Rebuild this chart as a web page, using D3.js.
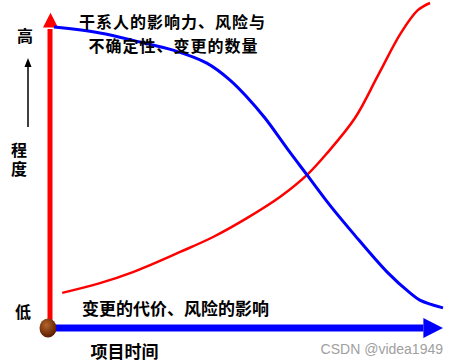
<!DOCTYPE html>
<html><head><meta charset="utf-8">
<script src="https://cdn.jsdelivr.net/npm/d3@7"></script>
<style>body{margin:0;background:#fff}svg{display:block}</style>
</head><body>
<script>
// Data (time 0-100, level 0-100)
const blueTime  = [1.0, 12.7, 22.9, 31.3, 39.9, 45.8, 50.1, 54.7, 60.6, 65.4, 71.2, 77.1, 85.8, 91.6, 94.1, 100];
const blueLevel = [92.6, 90.8, 88.0, 85.5, 81.5, 76.3, 71.1, 64.6, 54.8, 47.1, 37.8, 29.2, 17.2, 10.8, 8.6, 6.2];
const redTime   = [3.1, 12.7, 21.1, 33.1, 41.5, 50.1, 58.5, 65.4, 70.5, 77.6, 83.5, 89.3, 93.6, 96.7];
const redLevel  = [10.8, 13.8, 17.2, 23.4, 28.0, 33.8, 40.3, 47.1, 53.8, 64.6, 77.8, 90.8, 97.8, 100];
const blueLabel = ["干系人的影响力、风险与", "不确定性、变更的数量"];
const redLabel  = "变更的代价、风险的影响";
const xLabel    = "项目时间";
const yHigh     = "高";
const yLow      = "低";
const yLabel    = "程度";
const watermark = "CSDN @videa1949";

const W = 458, H = 364;
const svg = d3.select("body").append("svg").attr("width", W).attr("height", H);
const x = d3.scaleLinear().domain([0, 100]).range([50, 443]);
const y = d3.scaleLinear().domain([0, 100]).range([328, 3]);
const font = "'Noto Sans CJK SC', 'Noto Sans', sans-serif";

const line = d3.line().x(d => x(d[0])).y(d => y(d[1])).curve(d3.curveCatmullRom.alpha(0.5));

// Red vertical axis
svg.append("line").attr("x1", x(0)).attr("x2", x(0)).attr("y1", y(0)).attr("y2", y(92))
  .attr("stroke", "#ff0000").attr("stroke-width", 5);
svg.append("path").attr("fill", "#ff0000")
  .attr("d", `M${x(0)+0.5},${y(97)} L${x(0)-7},${y(92.5)} L${x(0)+8},${y(92.5)} Z`);

// Blue horizontal axis
svg.append("line").attr("x1", x(0)).attr("x2", x(95)).attr("y1", y(0)).attr("y2", y(0))
  .attr("stroke", "#0000ff").attr("stroke-width", 7);
svg.append("path").attr("fill", "#0000ff")
  .attr("d", `M${x(100)},${y(0)} L${x(95)},${y(0)-10} L${x(95)},${y(0)+10} Z`);

// Origin ball
const defs = svg.append("defs");
const g = defs.append("radialGradient").attr("id", "ball").attr("cx", "40%").attr("cy", "35%").attr("r", "65%");
g.append("stop").attr("offset", "0%").attr("stop-color", "#b5652a");
g.append("stop").attr("offset", "100%").attr("stop-color", "#5a1c00");
svg.append("ellipse").attr("cx", x(0) - 2).attr("cy", y(0)).attr("rx", 8.5).attr("ry", 9.5)
  .attr("fill", "url(#ball)");

// Curves
svg.append("path").datum(d3.zip(redTime, redLevel)).attr("d", line)
  .attr("fill", "none").attr("stroke", "#ff0000").attr("stroke-width", 2.5);
svg.append("path").datum(d3.zip(blueTime, blueLevel)).attr("d", line)
  .attr("fill", "none").attr("stroke", "#0000ff").attr("stroke-width", 3);

// Small black arrow
svg.append("line").attr("x1", 28).attr("x2", 28).attr("y1", 127).attr("y2", 66)
  .attr("stroke", "#000").attr("stroke-width", 1.5);
svg.append("path").attr("fill", "#000").attr("d", "M28,58 L24.5,67 L31.5,67 Z");

// Texts
const txt = (s, tx, ty, size, anchor, weight, color, fam) =>
  svg.append("text").attr("x", tx).attr("y", ty).attr("text-anchor", anchor || "middle")
    .attr("dominant-baseline", "central").attr("font-family", fam || font)
    .attr("font-size", size).attr("font-weight", weight || "bold").attr("fill", color || "#000").text(s);

txt(blueLabel[0], 172.5, 21, 16).attr("letter-spacing", 1);
txt(blueLabel[1], 173.5, 44.5, 16).attr("letter-spacing", 1);
txt(redLabel, 175.5, 307, 17);
txt(xLabel, 124.5, 350, 17);
txt(yHigh, 25, 35, 16);
svg.append("text").attr("x", 19).attr("y", 142).attr("writing-mode", "vertical-rl")
  .attr("font-family", font).attr("font-size", 16).attr("font-weight", "bold")
  .attr("letter-spacing", 3).attr("fill", "#000").text(yLabel);
txt(yLow, 23, 311, 16);
txt(watermark, 443, 349, 14, "end", "normal", "#a0a0a0", "'Liberation Sans', Arial, sans-serif");
</script>
</body></html>
